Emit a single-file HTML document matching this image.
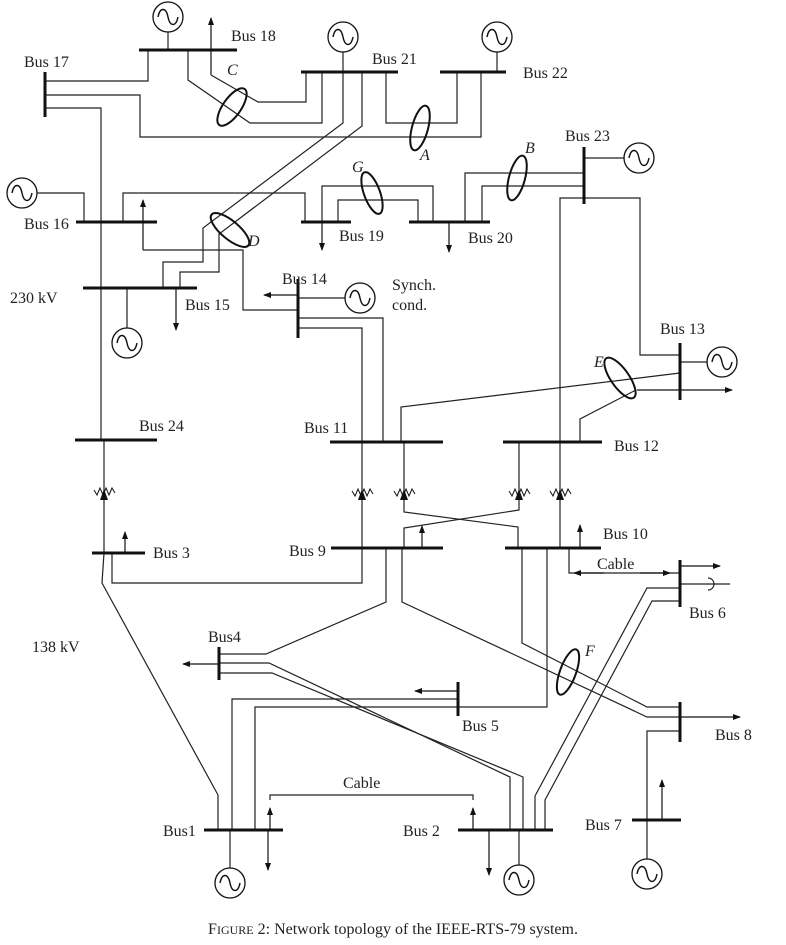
<!DOCTYPE html>
<html><head><meta charset="utf-8"><style>
html,body{margin:0;padding:0;background:#fff;}
svg{display:block}
text{font-family:"Liberation Serif",serif;font-size:16px;fill:#222}
.i{font-style:italic}
</style></head><body>
<svg width="786" height="945" viewBox="0 0 786 945" xmlns="http://www.w3.org/2000/svg">
<defs>
<marker id="ar" markerWidth="8" markerHeight="8" refX="7" refY="4" orient="auto" markerUnits="userSpaceOnUse"><path d="M0,1 L8,4 L0,7 Z" fill="#111"/></marker>
<g id="gen"><circle r="15" fill="#fff" stroke="#111" stroke-width="1.3"/><path d="M-10,0 C-8,-10 -2,-10 0,0 C2,10 8,10 10,0" fill="none" stroke="#111" stroke-width="1.4"/></g>
<path id="tr" d="M-10,-2 L-7,3 L-4,-4 L-1,3 L2,-4 L5,3 L8,-4 L11,1" fill="none" stroke="#111" stroke-width="1"/>
</defs>
<g stroke="#222" stroke-width="1.2" fill="none">
<polyline points="45,81 148,81 148,50"/>
<polyline points="45,95 140,95 140,137 481,137 481,72"/>
<polyline points="45,108 101,108 101,440"/>
<polyline points="188,50 188,80 250,123 322,123 322,72"/>
<polyline points="211,75 258,102 306,102 306,72"/>
<polyline points="343,72 343,123 203,228 203,262 163,262 163,288"/>
<polyline points="362,72 362,126 219,234 219,272 180,272 180,288"/>
<polyline points="386,72 386,123 457,123 457,72"/>
<polyline points="123,222 123,193 305,193 305,222"/>
<polyline points="84,222 84,193 36,193"/>
<polyline points="143,250 243,250 243,310 298,310"/>
<polyline points="322,222 322,186 433,186 433,222"/>
<polyline points="338,222 338,200 418,200 418,222"/>
<polyline points="465,222 465,173 584,173"/>
<polyline points="482,222 482,186 584,186"/>
<polyline points="584,198 640,198 640,355 680,355"/>
<polyline points="584,198 560,198 560,548"/>
<line x1="584" y1="158" x2="625" y2="158"/>
<polyline points="298,318 383,318 383,442"/>
<polyline points="298,328 362,328 362,583 112,583 112,553"/>
<line x1="298" y1="298" x2="346" y2="298"/>
<polyline points="401,442 401,407 680,373"/>
<polyline points="580,442 580,419 636,390"/>
<line x1="680" y1="362" x2="708" y2="362"/>
<polyline points="404,442 404,512 518,527 518,548"/>
<polyline points="519,442 519,510 404,528 404,548"/>
<line x1="104" y1="440" x2="104" y2="553"/>
<polyline points="569,548 569,573 680,573"/>
<polyline points="680,588 647,588 535,796 535,830"/>
<polyline points="680,601 652,601 545,800 545,830"/>
<line x1="680" y1="584" x2="730" y2="584"/>
<path d="M708,578 A6,6 0 0 1 708,590"/>
<polyline points="522,548 522,643 647,707 680,707"/>
<polyline points="402,548 402,602 647,717 680,717"/>
<polyline points="547,548 547,707 255,707 255,830"/>
<polyline points="458,699 232,699 232,830"/>
<polyline points="386,548 386,602 266,654 219,654"/>
<polyline points="219,663 269,663 510,777 510,830"/>
<polyline points="219,673 272,673 523,777 523,830"/>
<polyline points="104,553 102,583 218,795 218,830"/>
<polyline points="647,860 647,731 680,731"/>
<line x1="168" y1="31" x2="168" y2="50"/>
<line x1="343" y1="51" x2="343" y2="72"/>
<line x1="497" y1="51" x2="497" y2="72"/>
<line x1="127" y1="288" x2="127" y2="329"/>
<line x1="230" y1="830" x2="230" y2="869"/>
<line x1="519" y1="830" x2="519" y2="866"/>
<polyline points="270,800 270,795 473,795 473,800"/>
</g>
<g stroke="#111" stroke-width="1.2" marker-end="url(#ar)">
<line x1="211" y1="75" x2="211" y2="18"/>
<line x1="143" y1="250" x2="143" y2="200"/>
<line x1="322" y1="222" x2="322" y2="250"/>
<line x1="449" y1="222" x2="449" y2="252"/>
<line x1="176" y1="288" x2="176" y2="330"/>
<line x1="298" y1="295" x2="264" y2="295"/>
<line x1="637" y1="390" x2="732" y2="390"/>
<line x1="125" y1="553" x2="125" y2="532"/>
<line x1="422" y1="548" x2="422" y2="526"/>
<line x1="580" y1="548" x2="580" y2="525"/>
<line x1="604" y1="573" x2="574" y2="573"/>
<line x1="640" y1="573" x2="670" y2="573"/>
<line x1="680" y1="566" x2="720" y2="566"/>
<line x1="219" y1="664" x2="183" y2="664"/>
<line x1="458" y1="691" x2="415" y2="691"/>
<line x1="680" y1="717" x2="740" y2="717"/>
<line x1="662" y1="820" x2="662" y2="780"/>
<line x1="268" y1="830" x2="268" y2="870"/>
<line x1="489" y1="830" x2="489" y2="875"/>
<line x1="270" y1="830" x2="270" y2="808"/>
<line x1="473" y1="830" x2="473" y2="808"/>
</g>
<g stroke="#111" stroke-width="3">
<line x1="139" y1="50" x2="237" y2="50"/>
<line x1="45" y1="72" x2="45" y2="117"/>
<line x1="301" y1="72" x2="398" y2="72"/>
<line x1="440" y1="72" x2="506" y2="72"/>
<line x1="584" y1="147" x2="584" y2="204"/>
<line x1="76" y1="222" x2="157" y2="222"/>
<line x1="301" y1="222" x2="351" y2="222"/>
<line x1="409" y1="222" x2="490" y2="222"/>
<line x1="83" y1="288" x2="197" y2="288"/>
<line x1="298" y1="279" x2="298" y2="338"/>
<line x1="680" y1="343" x2="680" y2="400"/>
<line x1="330" y1="442" x2="443" y2="442"/>
<line x1="503" y1="442" x2="602" y2="442"/>
<line x1="75" y1="440" x2="157" y2="440"/>
<line x1="92" y1="553" x2="145" y2="553"/>
<line x1="331" y1="548" x2="443" y2="548"/>
<line x1="505" y1="548" x2="601" y2="548"/>
<line x1="680" y1="560" x2="680" y2="607"/>
<line x1="219" y1="647" x2="219" y2="680"/>
<line x1="458" y1="682" x2="458" y2="716"/>
<line x1="680" y1="702" x2="680" y2="742"/>
<line x1="632" y1="820" x2="681" y2="820"/>
<line x1="204" y1="830" x2="283" y2="830"/>
<line x1="458" y1="830" x2="553" y2="830"/>
</g>
<use href="#tr" x="104" y="492"/>
<use href="#tr" x="362" y="493"/>
<use href="#tr" x="404" y="493"/>
<use href="#tr" x="519" y="493"/>
<use href="#tr" x="560" y="493"/>
<g fill="#111"><path d="M100,500 L104,489 L108,500Z"/><path d="M358,500 L362,489 L366,500Z"/><path d="M400,500 L404,489 L408,500Z"/><path d="M515,500 L519,489 L523,500Z"/><path d="M556,500 L560,489 L564,500Z"/></g>
<g fill="none" stroke="#111" stroke-width="2">
<ellipse cx="232" cy="107" rx="9" ry="22" transform="rotate(35 232 107)"/>
<ellipse cx="230" cy="230" rx="9" ry="24" transform="rotate(-50 230 230)"/>
<ellipse cx="420" cy="128" rx="8" ry="23" transform="rotate(15 420 128)"/>
<ellipse cx="372" cy="193" rx="8" ry="22" transform="rotate(-20 372 193)"/>
<ellipse cx="517" cy="178" rx="8" ry="23" transform="rotate(15 517 178)"/>
<ellipse cx="620" cy="378" rx="9" ry="24" transform="rotate(-35 620 378)"/>
<ellipse cx="568" cy="672" rx="8" ry="24" transform="rotate(20 568 672)"/>
</g>
<use href="#gen" x="168" y="17"/>
<use href="#gen" x="343" y="37"/>
<use href="#gen" x="497" y="37"/>
<use href="#gen" x="639" y="158"/>
<use href="#gen" x="22" y="193"/>
<use href="#gen" x="127" y="343"/>
<use href="#gen" x="360" y="298"/>
<use href="#gen" x="722" y="362"/>
<use href="#gen" x="647" y="874"/>
<use href="#gen" x="230" y="883"/>
<use href="#gen" x="519" y="880"/>
<text x="231" y="41">Bus 18</text>
<text x="24" y="67">Bus 17</text>
<text x="372" y="64">Bus 21</text>
<text x="523" y="78">Bus 22</text>
<text x="565" y="141">Bus 23</text>
<text x="24" y="229">Bus 16</text>
<text x="339" y="241">Bus 19</text>
<text x="468" y="243">Bus 20</text>
<text x="185" y="310">Bus 15</text>
<text x="282" y="284">Bus 14</text>
<text x="392" y="290">Synch.</text>
<text x="392" y="310">cond.</text>
<text x="10" y="303">230 kV</text>
<text x="660" y="334">Bus 13</text>
<text x="304" y="433">Bus 11</text>
<text x="614" y="451">Bus 12</text>
<text x="139" y="431">Bus 24</text>
<text x="153" y="558">Bus 3</text>
<text x="289" y="556">Bus 9</text>
<text x="603" y="539">Bus 10</text>
<text x="597" y="569">Cable</text>
<text x="689" y="618">Bus 6</text>
<text x="32" y="652">138 kV</text>
<text x="208" y="642">Bus4</text>
<text x="462" y="731">Bus 5</text>
<text x="715" y="740">Bus 8</text>
<text x="343" y="788">Cable</text>
<text x="585" y="830">Bus 7</text>
<text x="163" y="836">Bus1</text>
<text x="403" y="836">Bus 2</text>
<text class="i" x="227" y="75">C</text>
<text class="i" x="248" y="246">D</text>
<text class="i" x="420" y="160">A</text>
<text class="i" x="352" y="172">G</text>
<text class="i" x="525" y="153">B</text>
<text class="i" x="594" y="367">E</text>
<text class="i" x="585" y="656">F</text>
<text x="393" y="934" text-anchor="middle" style="font-size:16px">F<tspan style="font-size:12px">IGURE</tspan> 2: Network topology of the IEEE-RTS-79 system.</text>
</svg>
</body></html>
